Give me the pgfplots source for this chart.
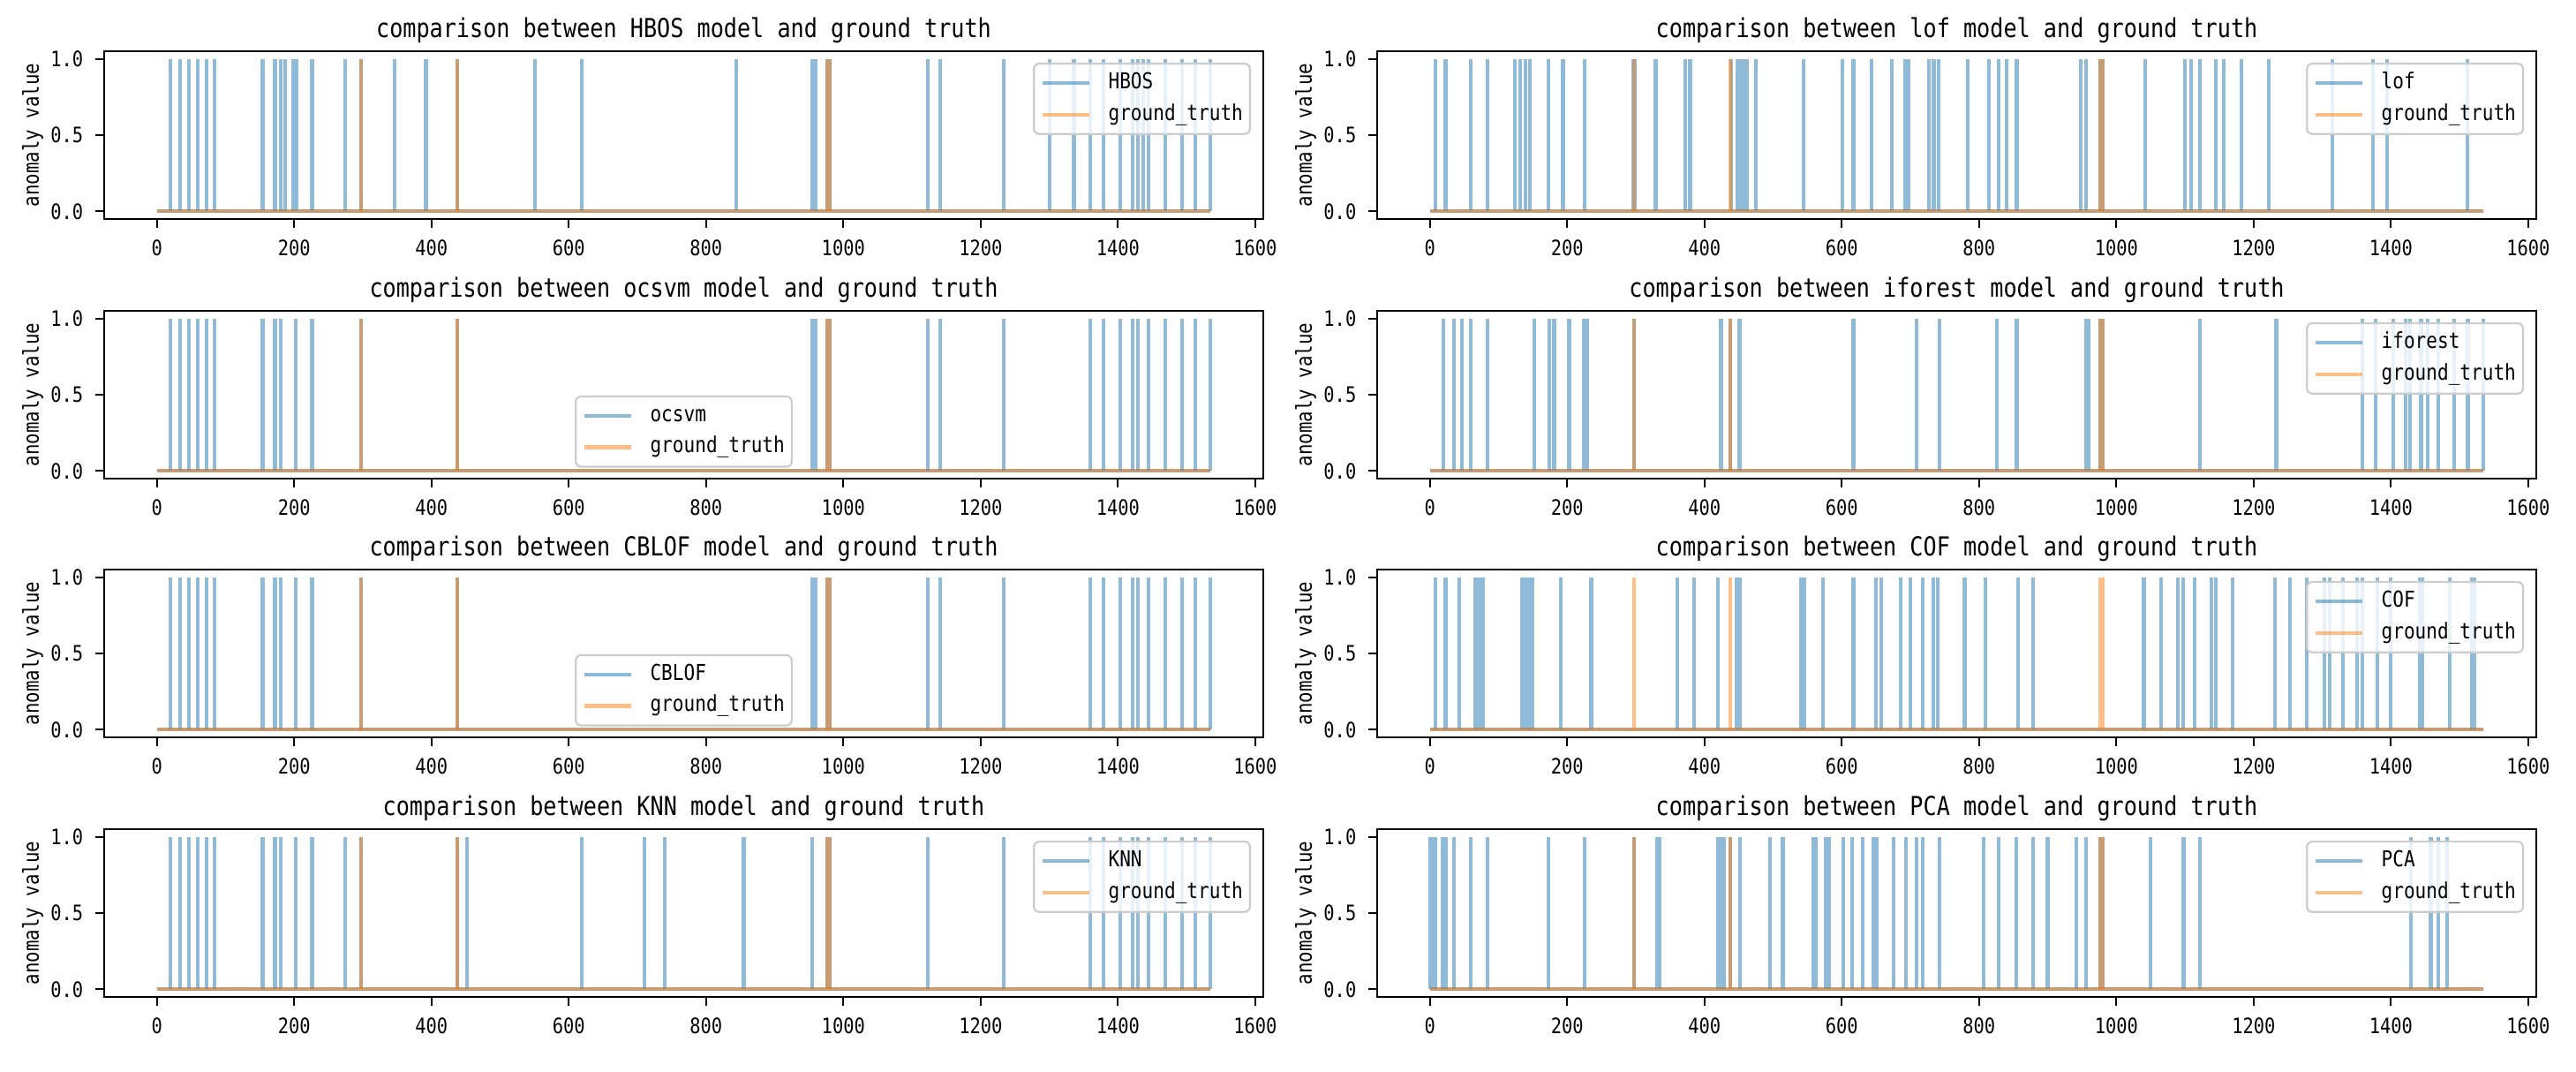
\documentclass[border=0pt]{standalone}
\usepackage{pgfplots}
\pgfplotsset{compat=1.18}
\usepackage{fontspec}
\setmainfont{DejaVu Sans Mono}[FakeStretch=0.85]

\definecolor{mblue}{HTML}{1F77B4}
\definecolor{morange}{HTML}{FF7F0E}

\newcommand{\titlefont}{\fontsize{7.4}{8}\selectfont}
\newcommand{\tickfont}{\fontsize{6}{7}\selectfont}
\newcommand{\legfont}{\fontsize{6.2}{7}\selectfont}
\newcommand{\ylabfont}{\fontsize{6.1}{7}\selectfont}

\pgfplotsset{
  panel/.style={
    scale only axis, width=328.25pt, height=47.5pt, anchor=south west,
    xmin=-76.75, xmax=1611.75, ymin=-0.05, ymax=1.05,
    xtick={0,200,...,1600}, ytick={0,0.5,1},
    scaled x ticks=false,
    tick align=outside, tick pos=left, major tick length=2.4pt,
    tick style={black, line width=0.55pt},
    axis line style={line width=0.55pt},
    tick label style={font=\tickfont},
    /pgf/number format/assume math mode=true,
    xticklabel style={/pgf/number format/1000 sep={}},
    yticklabel style={/pgf/number format/fixed, /pgf/number format/fixed zerofill, /pgf/number format/precision=1},
    ylabel={anomaly value},
    ylabel style={font=\ylabfont, at={(axis description cs:-0.0617,0.5)}, anchor=center},
    every axis title/.style={font=\titlefont, at={(axis description cs:0.5,1)}, anchor=base, yshift=3.9pt},
    legend cell align=left,
    legend image code/.code={\draw[##1] (0pt,0pt) -- (13.25pt,0pt);},
    legend style={font=\legfont, draw=black!20, line width=0.55pt, rounded corners=1.5pt,
      fill=white, fill opacity=0.8, draw opacity=1, text opacity=1,
      inner xsep=2pt, inner ysep=2.6pt, row sep=3.1pt, column sep=4.75pt,
      nodes={inner sep=0pt, text height=4.5pt, text depth=1.3pt}},
  },
  leg ne/.style={legend style={at={(rel axis cs:1,1)}, anchor=north east, xshift=-3.5pt, yshift=-3.25pt}},
  leg s/.style={legend style={at={(rel axis cs:0.5,0)}, anchor=south, yshift=3.1pt}},
  base/.style={line width=1.05pt, draw opacity=0.5, forget plot, mark=none},
  model/.style={base, ycomb, draw=mblue},
  truth/.style={base, ycomb, draw=morange},
  legblue/.style={draw=mblue, line width=1.1pt, draw opacity=0.5},
  legorange/.style={draw=morange, line width=1.1pt, draw opacity=0.5},
}

\begin{document}
\begin{tikzpicture}
\useasboundingbox (0,0) rectangle (729.5pt,303.25pt);

% row 1 left: HBOS
\begin{axis}[panel, leg ne, at={(29.5pt,241.25pt)},
  title={comparison between HBOS model and ground truth}]
\addplot[base, draw=mblue] coordinates {(0,0) (1535,0)};
\addplot[model] coordinates {
(20,1) (34,1) (47,1) (60,1) (72,1) (84,1) (154,1) (172,1) (180,1) (187,1) (198,1) (204,1) (226,1)
(274,1) (297,1) (346,1) (392,1) (438,1) (551,1) (619,1) (844,1) (955,1) (959,1) (977,1) (980,1)
(1123,1) (1141,1) (1234,1) (1301,1) (1336,1) (1360,1) (1379,1) (1403,1) (1421,1) (1429,1) (1437,1)
(1445,1) (1469,1) (1493,1) (1513,1) (1535,1)};
\addplot[base, draw=morange] coordinates {(0,0) (1535,0)};
\addplot[truth] coordinates {(297,1) (438,1) (977,1) (980,1)};
\addlegendimage{legblue}\addlegendentry{HBOS}
\addlegendimage{legorange}\addlegendentry{ground\_truth}
\end{axis}

% row 1 right: lof
\begin{axis}[panel, leg ne, at={(390pt,241.25pt)},
  title={comparison between lof model and ground truth}]
\addplot[base, draw=mblue] coordinates {(0,0) (1535,0)};
\addplot[model] coordinates {
(8,1) (23,1) (60,1) (84,1) (124,1) (132,1) (139,1) (146,1) (173,1) (194,1) (225,1) (296,1)
(299,1) (329,1) (372,1) (379,1) (439,1) (448,1) (453,1) (458,1) (462,1) (475,1) (544,1) (601,1)
(617,1) (643,1) (673,1) (692,1) (697,1) (727,1) (734,1) (741,1) (784,1) (814,1) (829,1)
(840,1) (855,1) (948,1) (956,1) (977,1) (980,1) (1042,1) (1100,1) (1109,1) (1122,1) (1145,1)
(1156,1) (1182,1) (1222,1) (1315,1) (1374,1) (1394,1) (1511,1)};
\addplot[base, draw=morange] coordinates {(0,0) (1535,0)};
\addplot[truth] coordinates {(297,1) (438,1) (977,1) (980,1)};
\addlegendimage{legblue}\addlegendentry{lof}
\addlegendimage{legorange}\addlegendentry{ground\_truth}
\end{axis}

% row 2 left: ocsvm
\begin{axis}[panel, leg s, at={(29.5pt,167.75pt)},
  title={comparison between ocsvm model and ground truth}]
\addplot[base, draw=mblue] coordinates {(0,0) (1535,0)};
\addplot[model] coordinates {
(20,1) (34,1) (47,1) (60,1) (72,1) (84,1) (154,1) (172,1) (180,1) (202,1) (226,1) (297,1) (438,1)
(955,1) (959,1) (977,1) (980,1) (1123,1) (1141,1) (1234,1) (1360,1) (1379,1) (1403,1) (1421,1)
(1429,1) (1445,1) (1469,1) (1493,1) (1513,1) (1535,1)};
\addplot[base, draw=morange] coordinates {(0,0) (1535,0)};
\addplot[truth] coordinates {(297,1) (438,1) (977,1) (980,1)};
\addlegendimage{legblue}\addlegendentry{ocsvm}
\addlegendimage{legorange}\addlegendentry{ground\_truth}
\end{axis}

% row 2 right: iforest
\begin{axis}[panel, leg ne, at={(390pt,167.75pt)},
  title={comparison between iforest model and ground truth}]
\addplot[base, draw=mblue] coordinates {(0,0) (1535,0)};
\addplot[model] coordinates {
(20,1) (35,1) (47,1) (60,1) (84,1) (152,1) (174,1) (181,1) (203,1) (224,1) (229,1) (297,1) (424,1)
(438,1) (451,1) (617,1) (709,1) (742,1) (826,1) (855,1) (956,1) (960,1) (977,1) (980,1) (1122,1)
(1233,1) (1358,1) (1378,1) (1403,1) (1421,1) (1428,1) (1444,1) (1454,1) (1469,1) (1492,1)
(1512,1) (1535,1)};
\addplot[base, draw=morange] coordinates {(0,0) (1535,0)};
\addplot[truth] coordinates {(297,1) (438,1) (977,1) (980,1)};
\addlegendimage{legblue}\addlegendentry{iforest}
\addlegendimage{legorange}\addlegendentry{ground\_truth}
\end{axis}

% row 3 left: CBLOF
\begin{axis}[panel, leg s, at={(29.5pt,94.5pt)},
  title={comparison between CBLOF model and ground truth}]
\addplot[base, draw=mblue] coordinates {(0,0) (1535,0)};
\addplot[model] coordinates {
(20,1) (34,1) (47,1) (60,1) (72,1) (84,1) (154,1) (172,1) (180,1) (202,1) (226,1) (297,1) (438,1)
(955,1) (959,1) (977,1) (980,1) (1123,1) (1141,1) (1234,1) (1360,1) (1379,1) (1403,1) (1421,1)
(1429,1) (1445,1) (1469,1) (1493,1) (1513,1) (1535,1)};
\addplot[base, draw=morange] coordinates {(0,0) (1535,0)};
\addplot[truth] coordinates {(297,1) (438,1) (977,1) (980,1)};
\addlegendimage{legblue}\addlegendentry{CBLOF}
\addlegendimage{legorange}\addlegendentry{ground\_truth}
\end{axis}

% row 3 right: COF
\begin{axis}[panel, leg ne, at={(390pt,94.5pt)},
  title={comparison between COF model and ground truth}]
\addplot[base, draw=mblue] coordinates {(0,0) (1535,0)};
\addplot[model] coordinates {
(8,1) (23,1) (43,1) (66,1) (69,1) (71,1) (74,1) (76,1) (78,1) (134,1) (137,1) (139,1) (144,1)
(147,1) (149,1) (191,1) (235,1) (360,1) (385,1) (420,1) (447,1) (452,1) (541,1) (546,1) (573,1)
(617,1) (650,1) (657,1) (686,1) (700,1) (718,1) (733,1) (740,1) (779,1) (809,1) (857,1) (879,1)
(1040,1) (1065,1) (1090,1) (1097,1) (1114,1) (1138,1) (1145,1) (1169,1) (1231,1) (1253,1)
(1277,1) (1303,1) (1311,1) (1330,1) (1351,1) (1358,1) (1380,1) (1399,1) (1442,1) (1446,1)
(1486,1) (1518,1) (1522,1)};
\addplot[base, draw=morange] coordinates {(0,0) (1535,0)};
\addplot[truth] coordinates {(297,1) (438,1) (977,1) (980,1)};
\addlegendimage{legblue}\addlegendentry{COF}
\addlegendimage{legorange}\addlegendentry{ground\_truth}
\end{axis}

% row 4 left: KNN
\begin{axis}[panel, leg ne, at={(29.5pt,21pt)},
  title={comparison between KNN model and ground truth}]
\addplot[base, draw=mblue] coordinates {(0,0) (1535,0)};
\addplot[model] coordinates {
(20,1) (34,1) (47,1) (60,1) (72,1) (84,1) (154,1) (172,1) (180,1) (202,1) (226,1) (274,1) (297,1)
(438,1) (452,1) (619,1) (710,1) (740,1) (855,1) (955,1) (977,1) (980,1) (1123,1) (1234,1)
(1360,1) (1379,1) (1403,1) (1421,1) (1429,1) (1445,1) (1469,1) (1493,1) (1513,1) (1535,1)};
\addplot[base, draw=morange] coordinates {(0,0) (1535,0)};
\addplot[truth] coordinates {(297,1) (438,1) (977,1) (980,1)};
\addlegendimage{legblue}\addlegendentry{KNN}
\addlegendimage{legorange}\addlegendentry{ground\_truth}
\end{axis}

% row 4 right: PCA
\begin{axis}[panel, leg ne, at={(390pt,21pt)},
  title={comparison between PCA model and ground truth}]
\addplot[base, draw=mblue] coordinates {(0,0) (1535,0)};
\addplot[model] coordinates {
(0,1) (4,1) (8,1) (19,1) (24,1) (35,1) (60,1) (84,1) (173,1) (225,1) (297,1) (331,1) (335,1)
(420,1) (424,1) (428,1) (438,1) (452,1) (495,1) (514,1) (558,1) (562,1) (577,1) (582,1) (602,1)
(615,1) (630,1) (646,1) (651,1) (675,1) (693,1) (709,1) (718,1) (742,1) (807,1) (829,1) (854,1)
(879,1) (900,1) (942,1) (956,1) (977,1) (980,1) (1050,1) (1098,1) (1122,1) (1429,1) (1458,1)
(1469,1) (1482,1)};
\addplot[base, draw=morange] coordinates {(0,0) (1535,0)};
\addplot[truth] coordinates {(297,1) (438,1) (977,1) (980,1)};
\addlegendimage{legblue}\addlegendentry{PCA}
\addlegendimage{legorange}\addlegendentry{ground\_truth}
\end{axis}
\end{tikzpicture}
\end{document}
